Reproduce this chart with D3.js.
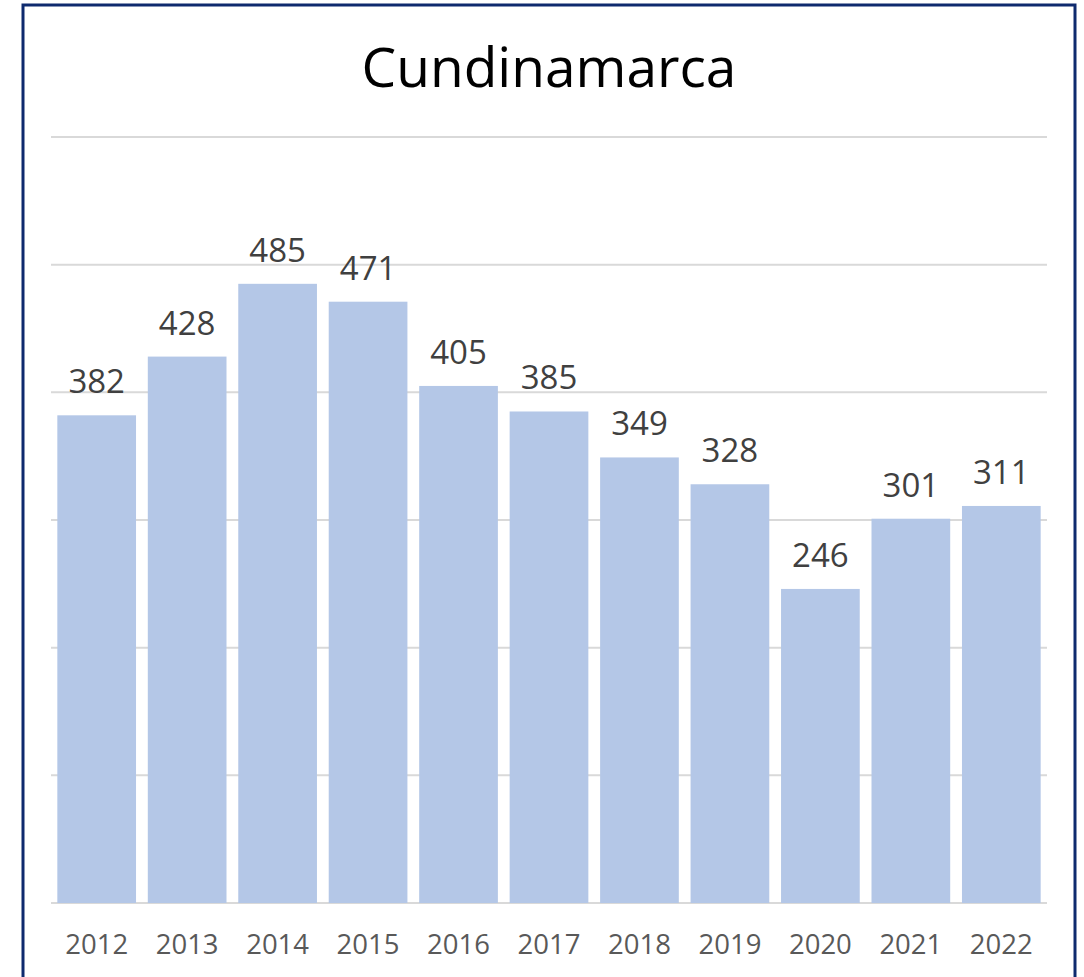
<!DOCTYPE html>
<html><head><meta charset="utf-8">
<script src="https://cdn.jsdelivr.net/npm/d3@7"></script>
<style>html,body{margin:0;padding:0;background:#fff;}</style>
</head><body>
<svg id="c" width="1084" height="977"></svg>
<script>
const title = "Cundinamarca";
const years = ["2012","2013","2014","2015","2016","2017","2018","2019","2020","2021","2022"];
const values = [382,428,485,471,405,385,349,328,246,301,311];
const gridTicks = [0,100,200,300,400,500,600];

const svg = d3.select("#c");
const W = 1084, H = 977;
svg.append("rect").attr("width",W).attr("height",H).attr("fill","#fff");
svg.append("rect").attr("x",23).attr("y",5).attr("width",1052).attr("height",H)
  .attr("fill","none").attr("stroke","#0e2a6e").attr("stroke-width",3);

const x = d3.scaleBand().domain(years).range([51,1047]).paddingInner(0.13).paddingOuter(0.07);
const y = d3.scaleLinear().domain([0,600]).range([903,137]);

const font = "'Open Sans', sans-serif";
svg.append("text").attr("x",549).attr("y",87).attr("text-anchor","middle")
  .attr("font-family",font).attr("font-size",55).attr("fill","#000").text(title);

svg.append("g").selectAll("line").data(gridTicks).join("line")
  .attr("x1",51).attr("x2",1047).attr("y1",d=>y(d)).attr("y2",d=>y(d))
  .attr("stroke","#d9d9d9").attr("stroke-width",2);

svg.append("g").selectAll("rect").data(values).join("rect")
  .attr("x",(d,i)=>x(years[i])).attr("width",x.bandwidth())
  .attr("y",d=>y(d)).attr("height",d=>y(0)-y(d)).attr("fill","#b4c7e7");

svg.append("g").selectAll("text").data(values).join("text")
  .attr("x",(d,i)=>x(years[i])+x.bandwidth()/2).attr("y",d=>y(d)-22)
  .attr("text-anchor","middle").attr("font-family",font).attr("font-size",33)
  .attr("fill","#404040").text(d=>d);

const xa = svg.append("g").attr("transform","translate(0,903)")
  .call(d3.axisBottom(x).tickSize(0).tickPadding(0));
xa.select(".domain").remove();
xa.selectAll("text").attr("y",51).attr("dy",null).attr("font-family",font)
  .attr("font-size",27.5).attr("fill","#595959");
</script>
</body></html>
